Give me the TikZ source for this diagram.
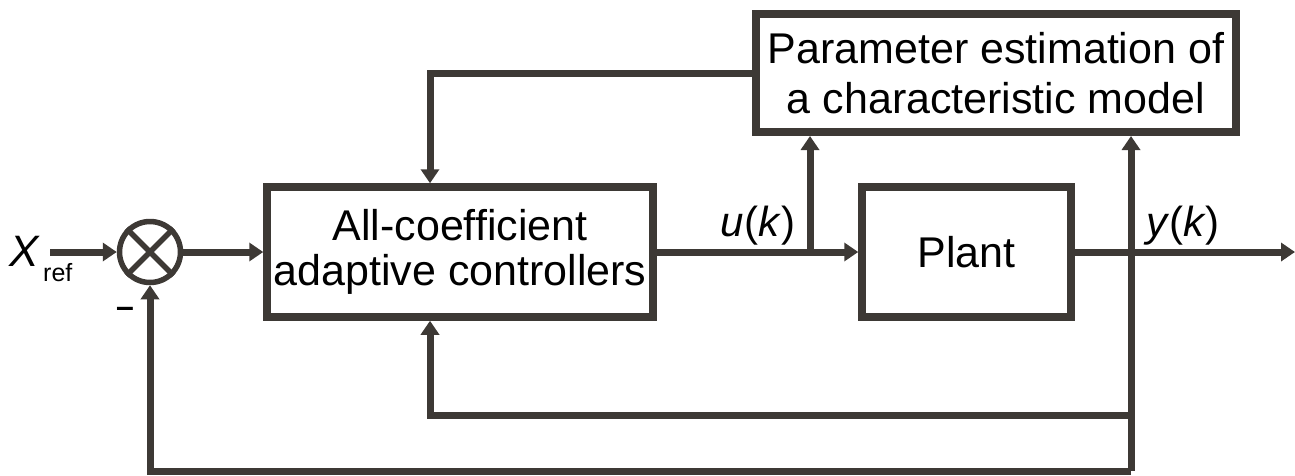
\documentclass[tikz,border=0pt]{standalone}
\usepackage{fontspec}
\setmainfont{Liberation Sans}
\usetikzlibrary{arrows.meta}
\definecolor{ln}{HTML}{3D3935}
\begin{document}
\begin{tikzpicture}[x=1pt,y=-1pt,
  blk/.style={draw=ln, line width=7.5pt, inner sep=0pt, align=center,
    font=\fontsize{43}{45}\selectfont},
  conn/.style={draw=ln, line width=7pt},
  arr/.style={conn, -{Triangle[length=14pt,width=18pt]}},
  lbl/.style={font=\fontsize{42}{45}\selectfont, inner sep=0pt}]
\useasboundingbox (0,0) rectangle (1295,475);

% blocks
\node[blk, minimum width=386pt, minimum height=130pt] (ctrl) at (460,252)
  {All-coefficient\\adaptive controllers};
\node[blk, minimum width=209pt, minimum height=130pt] (plant) at (966.5,252)
  {Plant};
\node[blk, line width=8pt, minimum width=480pt, minimum height=118pt,
  font=\fontsize{43}{50}\selectfont] (param) at (996,73)
  {Parameter estimation of\\a characteristic model};
\node[draw=ln, line width=5.5pt, circle, minimum size=61pt, inner sep=0pt] (sum) at (150,252) {};
\draw[ln, line width=5.5pt] (sum.north west) -- (sum.south east)
  (sum.north east) -- (sum.south west);

% labels
\node[lbl, anchor=base west, font=\fontsize{44}{45}\selectfont] (xref) at (9,266) {\textit{X}};
\node[inner sep=0pt, anchor=base west, font=\fontsize{25}{25}\selectfont] (xsub) at (43,281) {ref};
\node[inner sep=0pt, anchor=base, font=\bfseries\fontsize{32}{32}\selectfont] (minus) at (125,317) {–};
\node[lbl, anchor=base] (ulab) at (758,236) {\textit{u}(\textit{k})};
\node[lbl, anchor=base] (ylab) at (1183,236) {\textit{y}(\textit{k})};

% coordinates
\coordinate (xin) at (50,252);
\coordinate (ub) at (810,252);
\coordinate (yb) at (1131,252);
\coordinate (yb2) at (1131,415);
\coordinate (yb3) at (1131,471);
\coordinate (yout) at (1295,252);

% connectors
\draw[arr] (xin) -- (sum.west);
\draw[arr] (sum.east) -- (ctrl.west);
\draw[arr] (ctrl.east) -- (plant.west);
\draw[arr] (ub) -- (ub |- param.south);
\draw[arr] (plant.east) -- (yout);
\draw[arr] (yb) -- (yb |- param.south);
\draw[arr] (param.west) -| ([xshift=-30pt]ctrl.north);
\draw[conn] (yb) -- (yb3);
\draw[arr] (yb2) -| ([xshift=-30pt]ctrl.south);
\draw[arr] (yb3) -| (sum.south);
\end{tikzpicture}
\end{document}
